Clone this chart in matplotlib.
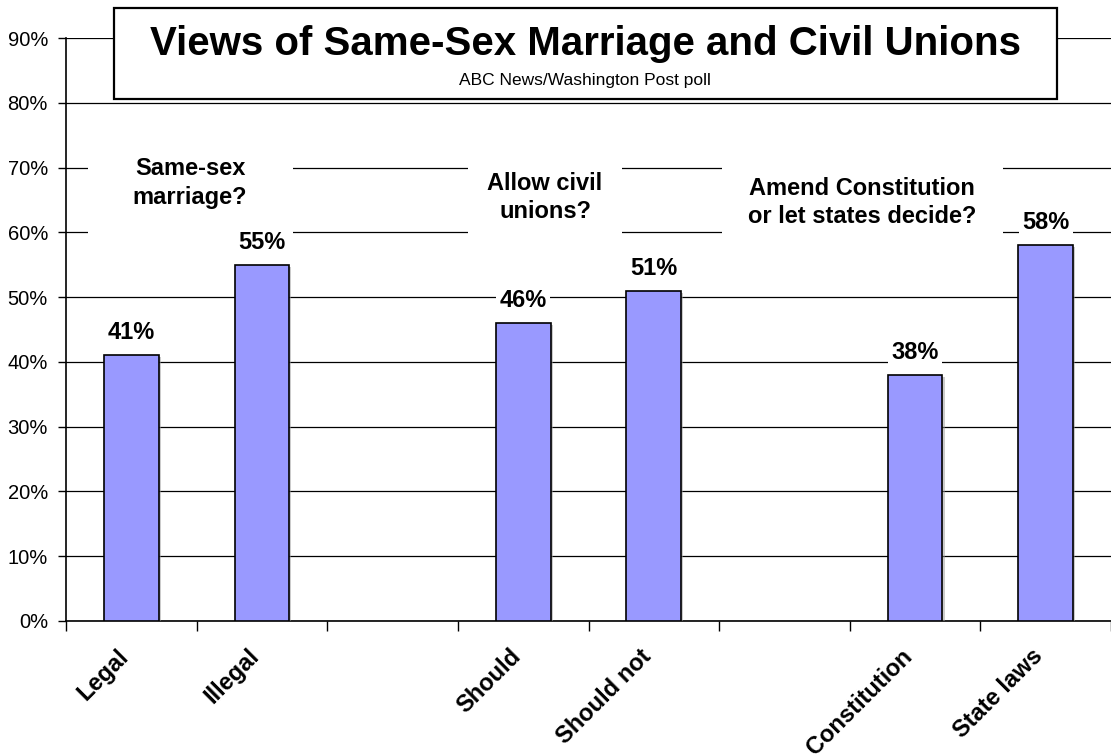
import numpy as np
import matplotlib
matplotlib.use('Agg')
import matplotlib.pyplot as plt
from matplotlib.patches import Rectangle
import matplotlib.patheffects as pe

plt.rcParams['font.family'] = ['Liberation Sans', 'DejaVu Sans']

# slots with an empty category between the three question groups
categories = ['Legal', 'Illegal', '', 'Should', 'Should not', '', 'Constitution', 'State laws']
values = [41, 55, np.nan, 46, 51, np.nan, 38, 58]
questions = ['Same-sex\nmarriage?', 'Allow civil\nunions?', 'Amend Constitution\nor let states decide?']
yticks = [0, 10, 20, 30, 40, 50, 60, 70, 80, 90]

title = 'Views of Same-Sex Marriage and Civil Unions'
subtitle = 'ABC News/Washington Post poll'

fig = plt.figure(figsize=(11.11, 7.56), dpi=100)
ax = fig.add_axes([66/1111, 1 - 621/756, 1045/1111, 583/756])

x = np.arange(len(categories))
bars = ax.bar(x, values, width=0.42, color='#9999ff', edgecolor='black', linewidth=1.2, zorder=3)
for b in bars:
    b.set_path_effects([pe.SimplePatchShadow(offset=(1.5, -1.5), shadow_rgbFace='#999999', alpha=0.5), pe.Normal()])

# value labels with white background (they break the gridlines)
for xi, v in zip(x, values):
    if np.isnan(v):
        continue
    ax.annotate(f'{v:.0f}%', xy=(xi, v), xytext=(0, 8), textcoords='offset points',
                ha='center', va='bottom', fontsize=17, fontweight='bold', zorder=6,
                bbox=dict(boxstyle='square,pad=0.15', fc='white', ec='none'))

# question headers, each on a white block hiding the gridlines
q_spans = [(-0.33, 1.24), (2.58, 3.76), (4.52, 6.67)]
q_centers = [(0.449, 67.6), (3.167, 65.4), (5.595, 64.6)]
for q, (x0, x1), (cx, cy) in zip(questions, q_spans, q_centers):
    ax.add_patch(Rectangle((x0, 59), x1 - x0, 12, fc='white', ec='none', zorder=4))
    ax.text(cx, cy, q, ha='center', va='center', multialignment='center',
            fontsize=17, fontweight='bold', linespacing=1.3, zorder=5)

ax.set_xlim(-0.5, len(categories) - 0.5)
ax.set_ylim(0, 90)
ax.set_yticks(yticks)
ax.set_yticklabels([f'{t}%' for t in yticks], fontsize=14.5)
ax.yaxis.grid(True, color='black', linewidth=0.9, zorder=0)
ax.set_axisbelow(True)

# tick marks at slot boundaries, category names drawn under slot centres
ax.set_xticks(np.arange(len(categories) + 1) - 0.5)
ax.set_xticklabels([])
ax.tick_params(axis='x', which='major', length=7, width=1, direction='out')
ax.tick_params(axis='y', length=6, width=1, pad=7)
for xi, c in zip(x, categories):
    if c:
        ax.annotate(c, xy=(xi, 0), xycoords=('data', 'axes fraction'), xytext=(-6, -32),
                    textcoords='offset pixels', rotation=45, ha='right', va='center',
                    rotation_mode='anchor', fontsize=17, fontweight='bold', annotation_clip=False)

for s in ['top', 'right']:
    ax.spines[s].set_visible(False)
ax.spines['left'].set_linewidth(1.2)
ax.spines['bottom'].set_linewidth(1.2)

# title box on top of the plot
fig.add_artist(Rectangle((114/1111, 1 - 99/756), 943/1111, 91/756, transform=fig.transFigure,
                         fc='white', ec='black', lw=1.6, zorder=10))
fig.text(586/1111, 1 - 55/756, title, ha='center', va='baseline', fontsize=29,
         fontweight='bold', zorder=11)
fig.text(585/1111, 1 - 85/756, subtitle, ha='center', va='baseline', fontsize=12.5, zorder=11)

fig.savefig('out.png', dpi=100)
